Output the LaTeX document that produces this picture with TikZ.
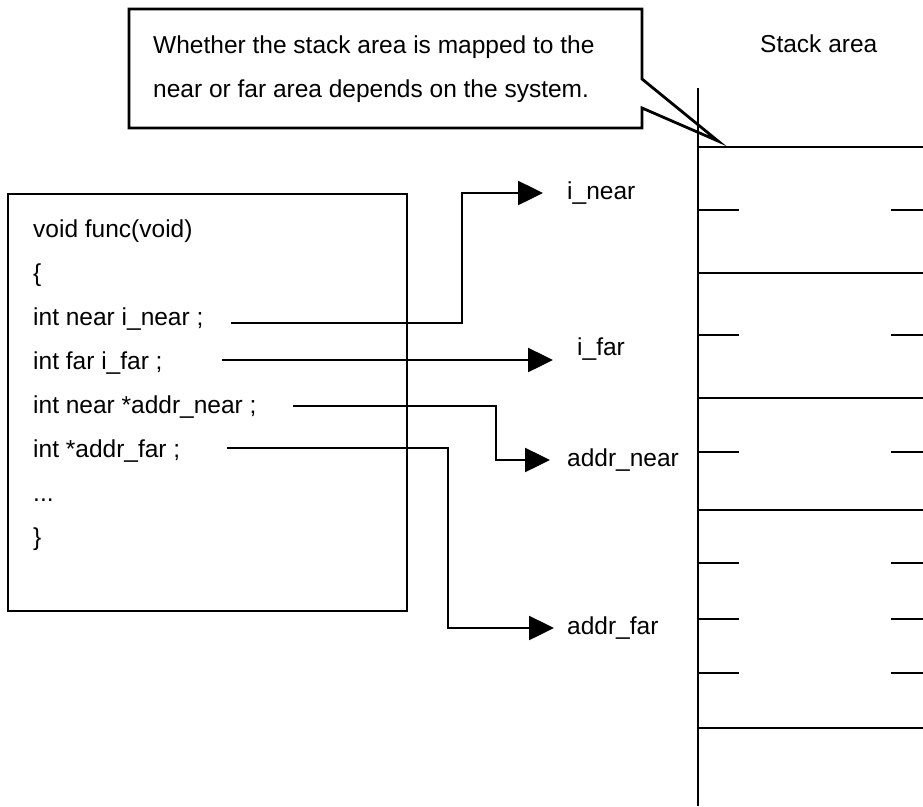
\documentclass[tikz,border=0pt]{standalone}
\usepackage{fontspec}
\setmainfont{Liberation Sans}
\usetikzlibrary{arrows.meta}

\tikzset{
  txt/.style={inner sep=0pt, anchor=base west, font=\fontsize{24.5}{29}\selectfont},
  lbl/.style={anchor=west, inner ysep=0pt, font=\fontsize{24.5}{29}\selectfont},
  box/.style={draw, line width=2.8pt},
  link/.style={line width=2.5pt, -{Triangle[length=25pt,width=24pt]}},
  stack/.style={line width=1.5pt}
}

\begin{document}
\begin{tikzpicture}[x=1pt, y=-1pt]
  \useasboundingbox (0,0) rectangle (923,806);

  % callout
  \draw[box, line join=miter] (129,9) -- (642,9) -- (642,79) -- (718,141) -- (642,108) -- (642,128) -- (129,128) -- cycle;
  \node[txt] (note1) at (153,53) {Whether the stack area is mapped to the};
  \node[txt] (note2) at (153,97) {near or far area depends on the system.};

  % source code
  \draw[box] (8,194) rectangle (407,611);
  \node[txt] (c1) at (33,237) {void func(void)};
  \node[txt] (c2) at (33,281) {\{};
  \node[txt] (c3) at (33,325) {int near i\_near ;};
  \node[txt] (c4) at (33,369) {int far i\_far ;};
  \node[txt] (c5) at (33,413) {int near *addr\_near ;};
  \node[txt] (c6) at (33,457) {int *addr\_far ;};
  \node[txt] (c7) at (33,501) {...};
  \node[txt] (c8) at (33,545) {\}};

  % stack area
  \node[txt] (stacklbl) at (760,52) {Stack area};
  \draw[stack] (698,88) -- (698,806);
  \foreach \yy in {147,273,398,510,728}
    \draw[stack] (698,\yy) -- (923,\yy);
  \foreach \yy in {210,335,452,563,619,673} {
    \draw[stack] (698,\yy) -- (739,\yy);
    \draw[stack] (891,\yy) -- (923,\yy);
  }

  % variables
  \node[lbl, inner xsep=24pt] (inear) at (543,193) {i\_near};
  \node[lbl, inner xsep=24pt, yshift=10.5pt] (ifar) at (553,360) {i\_far};
  \node[lbl, inner xsep=17pt] (anear) at (550,460) {addr\_near};
  \node[lbl, inner xsep=13pt] (afar) at (554,628) {addr\_far};

  \coordinate (s1) at (231,323);
  \coordinate (s2) at (222,360);
  \coordinate (s3) at (293,406);
  \coordinate (s4) at (227,448);

  \draw[link] (s1) -- (462,323) |- (inear.west);
  \draw[link] (s2) -- (s2 -| ifar.west);
  \draw[link] (s3) -- (496,406) |- (anear.west);
  \draw[link] (s4) -- (448,448) |- (afar.west);
\end{tikzpicture}
\end{document}
